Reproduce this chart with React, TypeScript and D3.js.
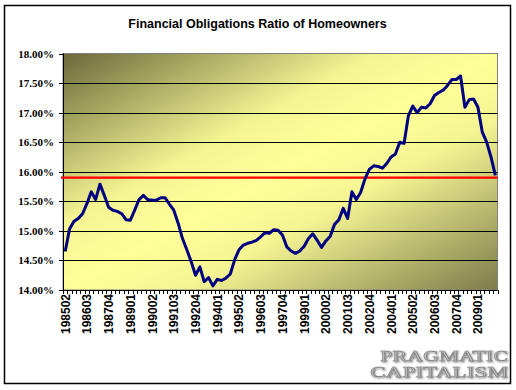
import React from 'react';
import * as d3 from 'd3';

// quarterly categories, 1985Q2 .. 2010Q1
const categories = [
  '198502', '198503', '198504',
  '198601', '198602', '198603', '198604',
  '198701', '198702', '198703', '198704',
  '198801', '198802', '198803', '198804',
  '198901', '198902', '198903', '198904',
  '199001', '199002', '199003', '199004',
  '199101', '199102', '199103', '199104',
  '199201', '199202', '199203', '199204',
  '199301', '199302', '199303', '199304',
  '199401', '199402', '199403', '199404',
  '199501', '199502', '199503', '199504',
  '199601', '199602', '199603', '199604',
  '199701', '199702', '199703', '199704',
  '199801', '199802', '199803', '199804',
  '199901', '199902', '199903', '199904',
  '200001', '200002', '200003', '200004',
  '200101', '200102', '200103', '200104',
  '200201', '200202', '200203', '200204',
  '200301', '200302', '200303', '200304',
  '200401', '200402', '200403', '200404',
  '200501', '200502', '200503', '200504',
  '200601', '200602', '200603', '200604',
  '200701', '200702', '200703', '200704',
  '200801', '200802', '200803', '200804',
  '200901', '200902', '200903', '200904',
  '201001',
];

// financial obligations ratio, percent
const ratio = [
  14.65, 15.03, 15.16, 15.21, 15.29, 15.46, 15.66, 15.53, 15.79, 15.6,
  15.4, 15.35, 15.33, 15.29, 15.19, 15.18, 15.35, 15.53, 15.6, 15.53,
  15.52, 15.52, 15.56, 15.56, 15.45, 15.35, 15.13, 14.87, 14.68, 14.48,
  14.25, 14.39, 14.14, 14.21, 14.07, 14.18, 14.16, 14.2, 14.27, 14.51,
  14.68, 14.76, 14.79, 14.81, 14.84, 14.9, 14.97, 14.96, 15.02, 15.01,
  14.93, 14.73, 14.66, 14.62, 14.66, 14.74, 14.87, 14.95, 14.84, 14.72,
  14.83, 14.91, 15.11, 15.19, 15.38, 15.21, 15.66, 15.53, 15.65, 15.88,
  16.04, 16.1, 16.09, 16.06, 16.14, 16.25, 16.3, 16.5, 16.48, 16.95,
  17.11, 17.0, 17.09, 17.08, 17.15, 17.29, 17.34, 17.38, 17.46, 17.56,
  17.56, 17.62, 17.09, 17.22, 17.23, 17.09, 16.67, 16.5, 16.25, 15.94,
];

const averageRatio = 15.9;

const tickLabels = [
  '198502', '198603', '198704', '198901', '199002', '199103', '199204',
  '199401', '199502', '199603', '199704', '199901', '200002', '200103',
  '200204', '200401', '200502', '200603', '200704', '200901',
];

const yTicks = [14, 14.5, 15, 15.5, 16, 16.5, 17, 17.5, 18];

const W = 516;
const H = 390;
const plot = { left: 63, right: 497.5, top: 53.5, bottom: 290 };

const App = () => {
  const x = d3
    .scaleBand<string>()
    .domain(categories)
    .range([plot.left, plot.right])
    .padding(0);
  const y = d3.scaleLinear().domain([14, 18]).range([plot.bottom, plot.top]);
  const cx = (c: string) => (x(c) as number) + x.bandwidth() / 2;

  const line = d3
    .line<number>()
    .x((d, i) => cx(categories[i]))
    .y((d) => y(d));

  const fmt = (v: number) => v.toFixed(2) + '%';

  return (
    <svg
      width={W}
      height={H}
      style={{ position: 'absolute', left: 0, top: 0, background: '#fff' }}
    >
      <defs>
        <linearGradient id="bg" x1="0" y1="0" x2="1" y2="1">
          <stop offset="0" stopColor="#69693b" />
          <stop offset="0.36" stopColor="#f4f493" />
          <stop offset="0.5" stopColor="#ffff99" />
          <stop offset="0.64" stopColor="#f4f493" />
          <stop offset="1" stopColor="#7c7c4b" />
        </linearGradient>
        <filter id="shadow" x="-10%" y="-30%" width="130%" height="160%">
          <feGaussianBlur in="SourceAlpha" stdDeviation="0.8" />
          <feOffset dx="1" dy="1" result="b" />
          <feFlood floodColor="#666" />
          <feComposite in2="b" operator="in" />
          <feMerge>
            <feMergeNode />
            <feMergeNode in="SourceGraphic" />
          </feMerge>
        </filter>
      </defs>

      <rect x={4.5} y={5.5} width={506} height={378} fill="#fff" stroke="#000" strokeWidth={1.5} />

      <text
        x={257.5}
        y={28}
        textAnchor="middle"
        fontFamily="Liberation Sans, Arial, sans-serif"
        fontWeight="bold"
        fontSize={12.5}
      >
        Financial Obligations Ratio of Homeowners
      </text>

      <rect
        x={plot.left}
        y={plot.top}
        width={plot.right - plot.left}
        height={plot.bottom - plot.top}
        fill="url(#bg)"
        stroke="#808080"
        strokeWidth={1}
      />

      {yTicks.slice(1, -1).map((t) => (
        <line
          key={t}
          x1={plot.left}
          x2={plot.right}
          y1={Math.round(y(t)) + 0.5}
          y2={Math.round(y(t)) + 0.5}
          stroke="#000"
          strokeWidth={1}
        />
      ))}

      {/* y axis */}
      <line x1={plot.left + 0.5} x2={plot.left + 0.5} y1={plot.top} y2={plot.bottom} stroke="#000" />
      {yTicks.map((t) => (
        <g key={t}>
          <line
            x1={plot.left - 4}
            x2={plot.left}
            y1={Math.round(y(t)) + 0.5}
            y2={Math.round(y(t)) + 0.5}
            stroke="#000"
          />
          <text
            x={54}
            y={y(t) + 4}
            textAnchor="end"
            fontFamily="Liberation Serif, Times New Roman, serif"
            fontWeight="bold"
            fontSize={11}
          >
            {fmt(t)}
          </text>
        </g>
      ))}

      {/* x axis */}
      <line x1={plot.left} x2={plot.right} y1={plot.bottom + 0.5} y2={plot.bottom + 0.5} stroke="#000" />
      {categories.concat(['end']).map((c, i) => {
        const xx = Math.round(plot.left + i * x.bandwidth()) + 0.5;
        return <line key={c} x1={xx} x2={xx} y1={plot.bottom} y2={plot.bottom + 4} stroke="#000" />;
      })}
      {tickLabels.map((c) => (
        <text
          key={c}
          transform={`translate(${cx(c) + 4.5},${plot.bottom + 4}) rotate(-90)`}
          textAnchor="end"
          fontFamily="Liberation Sans, Arial, sans-serif"
          fontWeight="bold"
          fontSize={12}
        >
          {c}
        </text>
      ))}

      <line
        x1={plot.left - 2}
        x2={plot.right}
        y1={y(averageRatio)}
        y2={y(averageRatio)}
        stroke="#ff0000"
        strokeWidth={2.2}
      />

      <path
        d={line(ratio) as string}
        fill="none"
        stroke="#000080"
        strokeWidth={3}
        strokeLinejoin="round"
      />

      <g
        fontFamily="Liberation Serif, Times New Roman, serif"
        fontSize={14}
        fill="#bdbdbd"
        stroke="#7a7a7a"
        strokeWidth={0.4}
        filter="url(#shadow)"
        textAnchor="end"
      >
        <text x={508} y={361} textLength={128} lengthAdjust="spacingAndGlyphs">
          PRAGMATIC
        </text>
        <text x={508} y={377} textLength={138} lengthAdjust="spacingAndGlyphs">
          CAPITALISM
        </text>
      </g>
    </svg>
  );
};

export default App;
